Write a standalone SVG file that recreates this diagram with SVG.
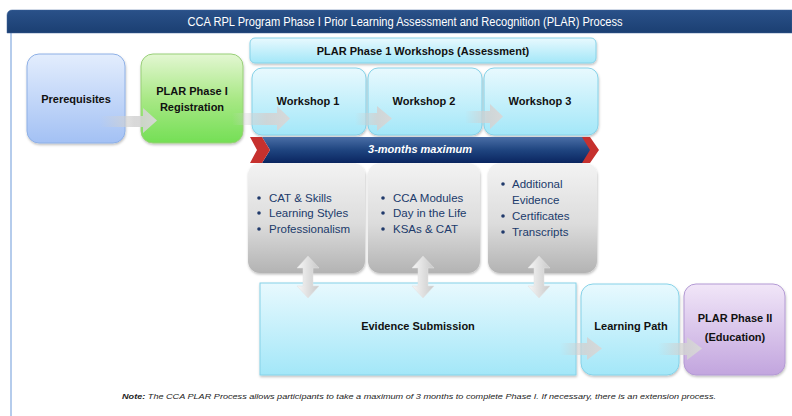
<svg xmlns="http://www.w3.org/2000/svg" width="792" height="416" viewBox="0 0 792 416">
<defs>
<linearGradient id="gBlue" x1="0" y1="0" x2="0" y2="1"><stop offset="0" stop-color="#e3edfd"/><stop offset="1" stop-color="#a3c1f4"/></linearGradient>
<linearGradient id="gGreen" x1="0" y1="0" x2="0" y2="1"><stop offset="0" stop-color="#e3f7d2"/><stop offset="0.5" stop-color="#a9e886"/><stop offset="1" stop-color="#74df55"/></linearGradient>
<linearGradient id="gCyan" x1="0" y1="0" x2="0" y2="1"><stop offset="0" stop-color="#e8f9fe"/><stop offset="1" stop-color="#a3e7f8"/></linearGradient>
<linearGradient id="gPurple" x1="0" y1="0" x2="0" y2="1"><stop offset="0" stop-color="#f1e6f8"/><stop offset="1" stop-color="#c2a5de"/></linearGradient>
<linearGradient id="gGray" x1="0" y1="0" x2="0" y2="1"><stop offset="0" stop-color="#f3f3f3"/><stop offset="0.55" stop-color="#dcdcdc"/><stop offset="1" stop-color="#b3b3b3"/></linearGradient>
<linearGradient id="gBanner" x1="0" y1="0" x2="0" y2="1"><stop offset="0" stop-color="#4a6ea6"/><stop offset="0.5" stop-color="#1f4580"/><stop offset="1" stop-color="#0a2560"/></linearGradient>
<linearGradient id="gTitle" x1="0" y1="0" x2="0" y2="1"><stop offset="0" stop-color="#2a5189"/><stop offset="1" stop-color="#1b3f72"/></linearGradient>
<linearGradient id="gArrowH" x1="0" y1="0" x2="1" y2="0"><stop offset="0" stop-color="#cfcfcf" stop-opacity="0"/><stop offset="0.6" stop-color="#d2d2d2" stop-opacity="0.85"/><stop offset="1" stop-color="#d8d8d8" stop-opacity="0.95"/></linearGradient>
<linearGradient id="gArrowV" x1="0" y1="0" x2="1" y2="0"><stop offset="0" stop-color="#f7f7f7"/><stop offset="1" stop-color="#c9c9c9"/></linearGradient>
<filter id="sh" x="-10%" y="-10%" width="130%" height="130%"><feDropShadow dx="0.5" dy="1.5" stdDeviation="1.2" flood-color="#000" flood-opacity="0.25"/></filter>
</defs>
<style>
text{font-family:"Liberation Sans",Arial,sans-serif;fill:#111}
.lbl{font-size:11px;font-weight:bold;text-anchor:middle}
.bul{font-size:11.5px;fill:#203a6b}
.dot{fill:#203a6b}
.title{font-size:12px;fill:#fff;text-anchor:middle}
.cyan{fill:url(#gCyan);stroke:#86d2e8;stroke-width:1}
.gray{fill:url(#gGray)}
.ah{fill:url(#gArrowH)}
.av{fill:url(#gArrowV);stroke:#e0e0e0;stroke-width:0.5}
</style>
<rect width="792" height="416" fill="#fff"/>
<g id="frame">
<line x1="11" y1="33" x2="11" y2="416" stroke="#9dbbe6" stroke-width="1.5"/>
<path d="M12,10 H792 V33 H7 V15 A5,5 0 0 1 12,10 Z" fill="url(#gTitle)" stroke="#3c639a" stroke-width="0.5"/>
<text class="title" x="405" y="26" textLength="435" lengthAdjust="spacingAndGlyphs">CCA RPL Program Phase I Prior Learning Assessment and Recognition (PLAR) Process</text>
</g>
<g id="prerequisites">
<rect x="27" y="54" width="98" height="89" rx="12" fill="url(#gBlue)" stroke="#8eb0e6" filter="url(#sh)"/>
<text class="lbl" x="76" y="103">Prerequisites</text>
</g>
<g id="registration">
<rect x="141" y="54" width="102" height="89" rx="12" fill="url(#gGreen)" stroke="#98cf78" filter="url(#sh)"/>
<text class="lbl" x="192" y="95">PLAR Phase I</text>
<text class="lbl" x="192" y="111">Registration</text>
</g>
<g id="workshops-header">
<rect x="250" y="38" width="346" height="25" rx="5" class="cyan" filter="url(#sh)"/>
<text class="lbl" x="423" y="55">PLAR Phase 1 Workshops (Assessment)</text>
</g>
<g id="workshop1">
<rect x="252" y="68" width="114" height="67" rx="10" class="cyan" filter="url(#sh)"/>
<text class="lbl" x="308" y="105">Workshop 1</text>
</g>
<g id="workshop2">
<rect x="368" y="68" width="114" height="67" rx="10" class="cyan" filter="url(#sh)"/>
<text class="lbl" x="424" y="105">Workshop 2</text>
</g>
<g id="workshop3">
<rect x="484" y="68" width="114" height="67" rx="10" class="cyan" filter="url(#sh)"/>
<text class="lbl" x="540" y="105">Workshop 3</text>
</g>
<g id="timeline">
<polygon points="262,137 584,137 592,150 584,163 262,163 270,150" fill="url(#gBanner)"/>
<polygon points="250,137 262,137 270,150 262,163 250,163 257,150" fill="#c6312e"/>
<polygon points="582,137 590,137 599,150 590,163 582,163 590,150" fill="#c6312e"/>
<text x="420" y="153" font-size="11" font-weight="bold" font-style="italic" text-anchor="middle" style="fill:#fff">3-months maximum</text>
</g>
<g id="evidence1">
<rect x="248" y="163" width="117" height="110" rx="12" class="gray" filter="url(#sh)"/>
<circle class="dot" cx="259" cy="198" r="1.8"/><text class="bul" x="269" y="202">CAT &amp; Skills</text>
<circle class="dot" cx="259" cy="213" r="1.8"/><text class="bul" x="269" y="217">Learning Styles</text>
<circle class="dot" cx="259" cy="229" r="1.8"/><text class="bul" x="269" y="233">Professionalism</text>
</g>
<g id="evidence2">
<rect x="368" y="163" width="112" height="110" rx="12" class="gray" filter="url(#sh)"/>
<circle class="dot" cx="383" cy="198" r="1.8"/><text class="bul" x="393" y="202">CCA Modules</text>
<circle class="dot" cx="383" cy="213" r="1.8"/><text class="bul" x="393" y="217">Day in the Life</text>
<circle class="dot" cx="383" cy="229" r="1.8"/><text class="bul" x="393" y="233">KSAs &amp; CAT</text>
</g>
<g id="evidence3">
<rect x="488" y="163" width="109" height="110" rx="12" class="gray" filter="url(#sh)"/>
<circle class="dot" cx="503" cy="184" r="1.8"/><text class="bul" x="512" y="188">Additional</text>
<text class="bul" x="512" y="204">Evidence</text>
<circle class="dot" cx="503" cy="216" r="1.8"/><text class="bul" x="512" y="220">Certificates</text>
<circle class="dot" cx="503" cy="232" r="1.8"/><text class="bul" x="512" y="236">Transcripts</text>
</g>
<g id="evidence-submission">
<rect x="260" y="283" width="316" height="92" class="cyan" filter="url(#sh)"/>
<text class="lbl" x="418" y="330">Evidence Submission</text>
</g>
<g id="learning-path">
<rect x="581" y="284" width="98" height="91" rx="12" class="cyan" filter="url(#sh)"/>
<text class="lbl" x="631" y="330">Learning Path</text>
</g>
<g id="phase2">
<rect x="684" y="284" width="101" height="91" rx="12" fill="url(#gPurple)" stroke="#b39ad4" filter="url(#sh)"/>
<text class="lbl" x="735" y="322">PLAR Phase II</text>
<text class="lbl" x="735" y="341">(Education)</text>
</g>
<g id="connectors">
<polygon class="ah" points="100,116 143,116 143,108 157,120.5 143,133 143,127 100,127"/>
<polygon class="ah" points="232,113 277,113 277,106 290,118.5 277,131 277,125 232,125"/>
<polygon class="ah" points="355,113 377,113 377,106 392,118.5 377,131 377,125 355,125"/>
<polygon class="ah" points="465,111 490,111 490,104 503,116.5 490,129 490,123 465,123"/>
<polygon class="ah" points="560,343 587,343 587,337 602,348.5 587,360 587,355 560,355"/>
<polygon class="ah" points="658,343 687,343 687,337 702,348.5 687,360 687,355 658,355"/>
<polygon class="av" points="308,256 319,268 313,268 313,286 319,286 308,298 297,286 303,286 303,268 297,268"/>
<polygon class="av" points="423,256 434,268 428,268 428,286 434,286 423,298 412,286 418,286 418,268 412,268"/>
<polygon class="av" points="539,256 550,268 544,268 544,286 550,286 539,298 528,286 534,286 534,268 528,268"/>
</g>
<g id="note">
<text x="419" y="399" font-size="8" font-style="italic" text-anchor="middle" textLength="594" lengthAdjust="spacingAndGlyphs" style="fill:#222"><tspan font-weight="bold">Note:</tspan> The CCA PLAR Process allows participants to take a maximum of 3 months to complete Phase I. If necessary, there is an extension process.</text>
</g>
</svg>
